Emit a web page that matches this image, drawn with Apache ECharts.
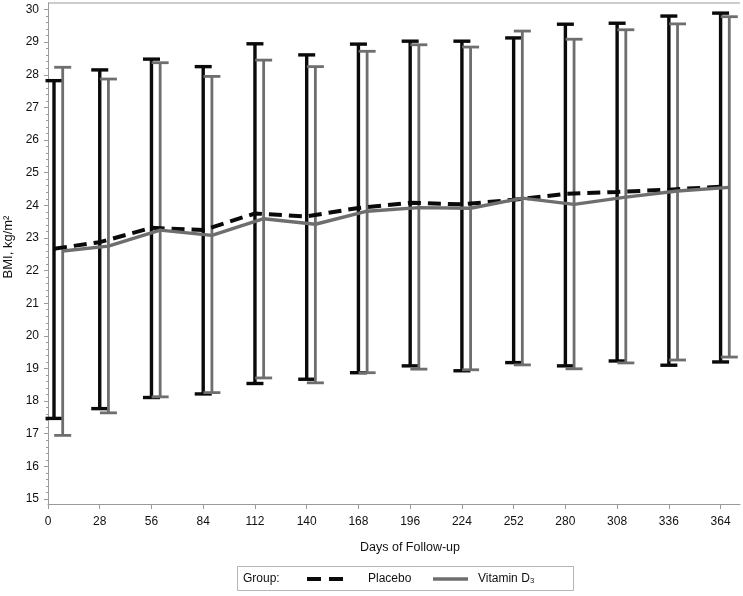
<!DOCTYPE html>
<html>
<head>
<meta charset="utf-8">
<script src="https://cdn.jsdelivr.net/npm/echarts@6/dist/echarts.min.js"></script>
<style>
html,body{margin:0;padding:0;background:#fff;}
#chart{width:743px;height:596px;}
</style>
</head>
<body>
<div id="chart"></div>
<script>
// ---- data ----
const days = [0, 28, 56, 84, 112, 140, 168, 196, 224, 252, 280, 308, 336, 364];

const placeboMean  = [22.67, 22.87, 23.31, 23.24, 23.75, 23.66, 23.92, 24.08, 24.03, 24.17, 24.35, 24.41, 24.48, 24.57];
const placeboLower = [17.47, 17.77, 18.11, 18.22, 18.54, 18.67, 18.87, 19.08, 18.93, 19.18, 19.08, 19.23, 19.10, 19.20];
const placeboUpper = [27.82, 28.15, 28.48, 28.25, 28.95, 28.61, 28.94, 29.03, 29.03, 29.13, 29.55, 29.58, 29.80, 29.89];

const vitaminMean  = [22.60, 22.75, 23.24, 23.08, 23.59, 23.42, 23.82, 23.93, 23.91, 24.22, 24.03, 24.25, 24.44, 24.55];
const vitaminLower = [16.95, 17.64, 18.13, 18.26, 18.71, 18.56, 18.87, 18.98, 18.96, 19.11, 18.99, 19.17, 19.26, 19.35];
const vitaminUpper = [28.23, 27.87, 28.37, 27.95, 28.45, 28.25, 28.72, 28.92, 28.85, 29.34, 29.09, 29.38, 29.56, 29.78];

const xTicks = [0, 28, 56, 84, 112, 140, 168, 196, 224, 252, 280, 308, 336, 364];
const yTicks = [15, 16, 17, 18, 19, 20, 21, 22, 23, 24, 25, 26, 27, 28, 29, 30];

const groupNames = ['Placebo', 'Vitamin D\u2083'];

// ---- layout / style constants ----
const FONT = '"Liberation Sans", Arial, sans-serif';
const BLACK = '#0a0a0a';
const GRAY = '#6e6e6e';
const AXIS_GRAY = '#9a9a9a';
// horizontal dodge of the two groups (in days)
function dodge(i, group) {
  const base = i === 0 ? 3.25 : 0;
  return base + (group === 0 ? 0 : 4.7);
}

// minor ticks: 4 between each pair of majors
const yMinor = [];
for (let k = 0; k < yTicks.length - 1; k++) {
  for (let j = 1; j < 5; j++) yMinor.push(+(yTicks[k] + j * (yTicks[k + 1] - yTicks[k]) / 5).toFixed(2));
}

const placeboBars = days.map((d, i) => [d + dodge(i, 0), placeboLower[i], placeboUpper[i]]);
const vitaminBars = days.map((d, i) => [d + dodge(i, 1), vitaminLower[i], vitaminUpper[i]]);
const placeboLine = days.map((d, i) => [d + dodge(i, 0), placeboMean[i]]);
const vitaminLine = days.map((d, i) => [d + dodge(i, 1), vitaminMean[i]]);

function errorBar(color, stemW, capW, capH) {
  return function (params, api) {
    const x = api.value(0);
    const top = api.coord([x, api.value(2)]);
    const bot = api.coord([x, api.value(1)]);
    const st = { stroke: color, lineWidth: stemW };
    const cs = { stroke: color, lineWidth: capH };
    return {
      type: 'group',
      children: [
        { type: 'line', shape: { x1: top[0], y1: top[1], x2: bot[0], y2: bot[1] }, style: st },
        { type: 'line', shape: { x1: top[0] - capW / 2, y1: top[1], x2: top[0] + capW / 2, y2: top[1] }, style: cs },
        { type: 'line', shape: { x1: bot[0] - capW / 2, y1: bot[1], x2: bot[0] + capW / 2, y2: bot[1] }, style: cs }
      ]
    };
  };
}

const GRID = { left: 48, right: 3, top: 3, bottom: 92 };

const chart = echarts.init(document.getElementById('chart'), null, { renderer: 'canvas' });
chart.setOption({
  animation: false,
  backgroundColor: '#fff',
  textStyle: { fontFamily: FONT },
  grid: Object.assign({ containLabel: false, outerBoundsMode: 'none' }, GRID),
  xAxis: {
    type: 'value', min: 0, max: 374.5,
    axisLine: { show: true, lineStyle: { color: AXIS_GRAY, width: 1 } },
    axisTick: { show: true, length: 5, customValues: xTicks, lineStyle: { color: AXIS_GRAY } },
    axisLabel: { customValues: xTicks, color: '#111', fontSize: 12, fontFamily: FONT, margin: 12 },
    splitLine: { show: false }
  },
  yAxis: [{
    type: 'value', min: 14.847, max: 30.2,
    axisLine: { show: true, lineStyle: { color: AXIS_GRAY, width: 1 } },
    axisTick: { show: true, length: 4, customValues: yTicks, lineStyle: { color: AXIS_GRAY } },
    axisLabel: { customValues: yTicks, color: '#111', fontSize: 12, fontFamily: FONT, margin: 9 },
    splitLine: { show: false }
  }, {
    type: 'value', min: 14.847, max: 30.2, position: 'left', offset: 0,
    axisLine: { show: false },
    axisTick: { show: true, length: 2, customValues: yMinor, lineStyle: { color: AXIS_GRAY } },
    axisLabel: { show: false },
    splitLine: { show: false }
  }],
  series: [
    { type: 'custom', name: groupNames[0] + ' range', data: placeboBars, renderItem: errorBar(BLACK, 3.4, 17, 3.4), z: 2, clip: false },
    { type: 'custom', name: groupNames[1] + ' range', data: vitaminBars, renderItem: errorBar(GRAY, 2.8, 17, 2.8), z: 3, clip: false },
    { type: 'line', name: groupNames[0], data: placeboLine, showSymbol: false, symbol: 'none',
      lineStyle: { color: BLACK, width: 4, type: [13, 7] }, z: 4 },
    { type: 'line', name: groupNames[1], data: vitaminLine, showSymbol: false, symbol: 'none',
      lineStyle: { color: GRAY, width: 3.4 }, z: 5 }
  ],
  graphic: [
    // top frame line
    { type: 'line', shape: { x1: 48, y1: 3, x2: 740, y2: 3 }, style: { stroke: AXIS_GRAY, lineWidth: 1 }, silent: true },
    // y axis title
    { type: 'text', x: 8, y: 247, rotation: Math.PI / 2,
      style: { text: 'BMI, kg/m\u00b2', font: '13px ' + FONT, fill: '#111', align: 'center', verticalAlign: 'middle' } },
    // x axis title
    { type: 'text', x: 410, y: 548,
      style: { text: 'Days of Follow-up', font: '12.5px ' + FONT, fill: '#111', align: 'center', verticalAlign: 'middle' } },
    // legend box
    { type: 'rect', shape: { x: 237.5, y: 566.5, width: 336, height: 24 }, style: { fill: '#fff', stroke: '#b5b5b5', lineWidth: 1 } },
    { type: 'text', x: 243, y: 579, style: { text: 'Group:', font: '12px ' + FONT, fill: '#111', verticalAlign: 'middle' } },
    { type: 'line', shape: { x1: 307, y1: 579, x2: 344, y2: 579 }, style: { stroke: BLACK, lineWidth: 4, lineDash: [14, 8] } },
    { type: 'text', x: 368, y: 579, style: { text: groupNames[0], font: '12px ' + FONT, fill: '#111', verticalAlign: 'middle' } },
    { type: 'line', shape: { x1: 433, y1: 579, x2: 468, y2: 579 }, style: { stroke: GRAY, lineWidth: 3.5 } },
    { type: 'text', x: 478, y: 579, style: { text: groupNames[1], font: '12px ' + FONT, fill: '#111', verticalAlign: 'middle' } }
  ]
});
</script>
</body>
</html>
